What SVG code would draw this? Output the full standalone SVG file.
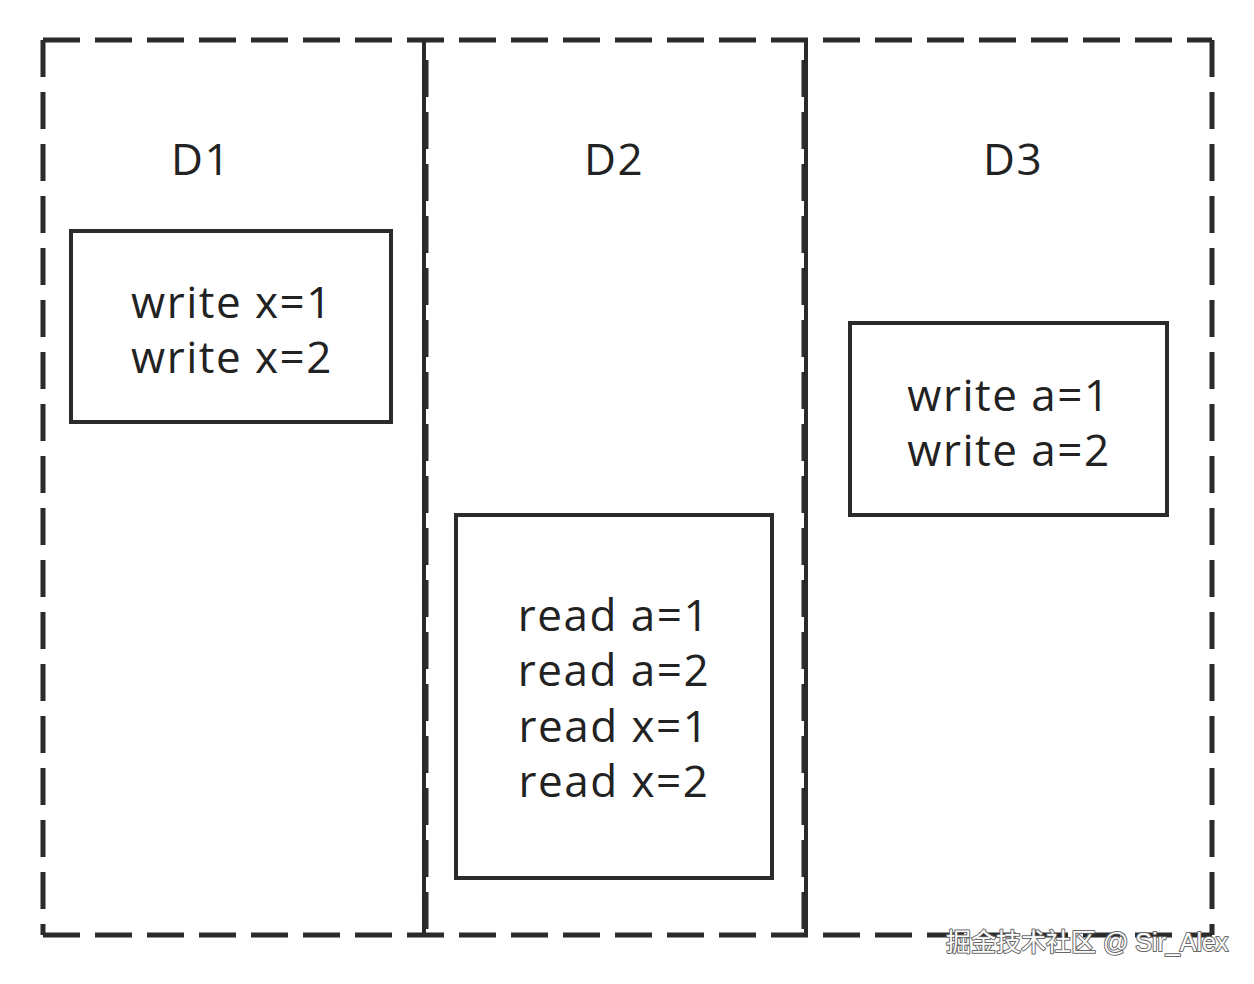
<svg xmlns="http://www.w3.org/2000/svg" width="1254" height="984" viewBox="0 0 1254 984">
<style>
.dash{fill:none;stroke:#2b2b2b;stroke-width:5;stroke-dasharray:37 15}
.div{fill:none;stroke:#2b2b2b;stroke-width:4}
.box{fill:none;stroke:#2b2b2b;stroke-width:4}
.t{font-family:"Open Sans","Noto Sans","Liberation Sans",sans-serif;font-size:44px;fill:#222;text-anchor:middle;letter-spacing:1.5px}
.wm{font-family:"Liberation Sans","Noto Sans CJK SC",sans-serif;font-size:25px;fill:#fff;stroke:#666;stroke-width:2;paint-order:stroke;stroke-linejoin:round}
</style>
<rect width="1254" height="984" fill="#fff"/>
<g id="frame">
<path class="dash" d="M43 40 H1212 M1212 40 V935 M43 935 H1212 M43 40 V935"/>
<path class="div" d="M424 40 V935 M806 40 V935"/>
<path class="dash" d="M426 60 V935 M804 60 V935" stroke-width="3"/>
</g>
<g id="D1">
<text class="t" x="201" y="175">D1</text>
<rect class="box" x="71" y="231" width="320" height="191"/>
<text class="t" x="232" y="318">write x=1</text>
<text class="t" x="232" y="373">write x=2</text>
</g>
<g id="D2">
<text class="t" x="614" y="175">D2</text>
<rect class="box" x="456" y="515" width="316" height="363"/>
<text class="t" x="614" y="631">read a=1</text>
<text class="t" x="614" y="686">read a=2</text>
<text class="t" x="614" y="742">read x=1</text>
<text class="t" x="614" y="797">read x=2</text>
</g>
<g id="D3">
<text class="t" x="1013" y="175">D3</text>
<rect class="box" x="850" y="323" width="317" height="192"/>
<text class="t" x="1009" y="411">write a=1</text>
<text class="t" x="1009" y="466">write a=2</text>
</g>
<g id="connectors"></g>
<text class="wm" x="946" y="951">掘金技术社区 @ Sir_Alex</text>
</svg>
